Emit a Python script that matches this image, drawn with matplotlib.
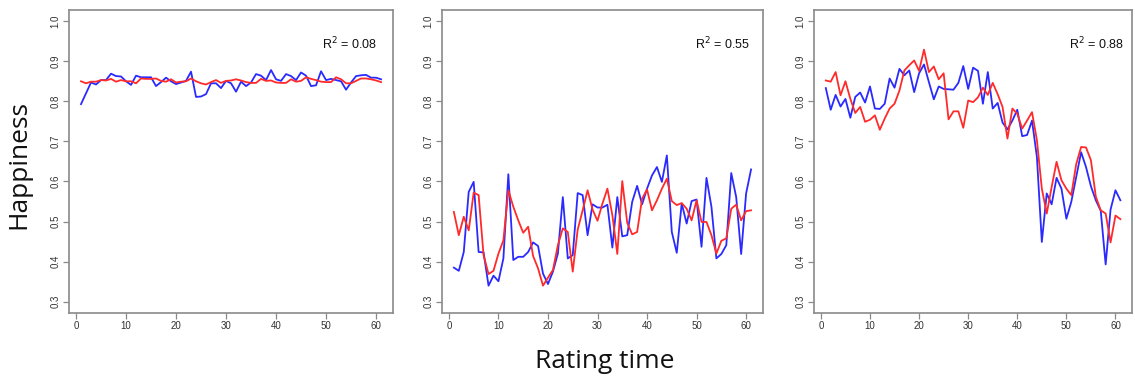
import numpy as np
import matplotlib
matplotlib.use("Agg")
from matplotlib import pyplot as plt

# rating time points
t = list(range(1, 62))

# panel 1 (R2 = 0.08)
blue1 = [0.793, 0.82, 0.847, 0.842, 0.853, 0.853, 0.869, 0.863, 0.862, 0.85,
         0.841, 0.864, 0.86, 0.86, 0.86, 0.838, 0.848, 0.859, 0.85, 0.843,
         0.847, 0.851, 0.874, 0.811, 0.812, 0.818, 0.845, 0.845, 0.833, 0.851,
         0.845, 0.824, 0.849, 0.838, 0.847, 0.868, 0.864, 0.853, 0.878, 0.855,
         0.851, 0.868, 0.863, 0.853, 0.872, 0.864, 0.838, 0.84, 0.875, 0.853,
         0.856, 0.853, 0.85, 0.829, 0.847, 0.863, 0.865, 0.866, 0.859, 0.859,
         0.855]
red1 = [0.85, 0.845, 0.849, 0.849, 0.853, 0.852, 0.856, 0.849, 0.853, 0.85,
        0.85, 0.845, 0.857, 0.856, 0.856, 0.857, 0.851, 0.849, 0.855, 0.847,
        0.849, 0.85, 0.857, 0.85, 0.845, 0.842, 0.848, 0.853, 0.846, 0.851,
        0.852, 0.855, 0.852, 0.848, 0.846, 0.846, 0.856, 0.851, 0.852, 0.847,
        0.846, 0.846, 0.855, 0.849, 0.851, 0.86, 0.856, 0.853, 0.849, 0.848,
        0.848, 0.86, 0.855, 0.845, 0.845, 0.851, 0.857, 0.857, 0.855, 0.852,
        0.848]

# panel 2 (R2 = 0.55)
blue2 = [0.385, 0.377, 0.424, 0.574, 0.599, 0.424, 0.423, 0.34, 0.365, 0.351,
         0.408, 0.618, 0.404, 0.412, 0.412, 0.424, 0.448, 0.439, 0.37, 0.344,
         0.375, 0.42, 0.561, 0.408, 0.416, 0.571, 0.566, 0.466, 0.543, 0.535,
         0.535, 0.542, 0.435, 0.561, 0.463, 0.466, 0.549, 0.589, 0.543, 0.582,
         0.615, 0.636, 0.599, 0.665, 0.474, 0.422, 0.545, 0.495, 0.551, 0.555,
         0.437, 0.609, 0.537, 0.408, 0.419, 0.441, 0.621, 0.561, 0.419, 0.57,
         0.63]
red2 = [0.524, 0.466, 0.512, 0.478, 0.572, 0.566, 0.416, 0.369, 0.377, 0.42,
        0.453, 0.578, 0.537, 0.503, 0.472, 0.487, 0.414, 0.383, 0.34, 0.36,
        0.379, 0.441, 0.483, 0.474, 0.375, 0.48, 0.528, 0.578, 0.53, 0.502,
        0.545, 0.582, 0.516, 0.419, 0.601, 0.497, 0.468, 0.474, 0.557, 0.58,
        0.528, 0.553, 0.582, 0.607, 0.551, 0.541, 0.546, 0.532, 0.503, 0.553,
        0.499, 0.499, 0.466, 0.42, 0.452, 0.458, 0.532, 0.542, 0.503, 0.526,
        0.528]

# panel 3 (R2 = 0.88)
blue3 = [0.833, 0.779, 0.816, 0.787, 0.806, 0.759, 0.811, 0.822, 0.797, 0.837,
         0.782, 0.781, 0.794, 0.857, 0.834, 0.881, 0.865, 0.877, 0.823, 0.87,
         0.892, 0.848, 0.805, 0.837, 0.831, 0.83, 0.829, 0.846, 0.888, 0.831,
         0.884, 0.876, 0.794, 0.873, 0.782, 0.796, 0.747, 0.73, 0.752, 0.779,
         0.713, 0.716, 0.752, 0.661, 0.449, 0.57, 0.543, 0.609, 0.582, 0.507,
         0.549, 0.611, 0.673, 0.636, 0.588, 0.553, 0.527, 0.393, 0.53, 0.578,
         0.553]
red3 = [0.852, 0.849, 0.873, 0.815, 0.85, 0.806, 0.771, 0.786, 0.749, 0.754,
        0.765, 0.729, 0.757, 0.782, 0.794, 0.827, 0.877, 0.89, 0.902, 0.876,
        0.929, 0.873, 0.887, 0.855, 0.87, 0.755, 0.775, 0.775, 0.734, 0.802,
        0.798, 0.81, 0.834, 0.816, 0.846, 0.818, 0.786, 0.707, 0.782, 0.769,
        0.732, 0.752, 0.773, 0.703, 0.582, 0.52, 0.586, 0.649, 0.603, 0.582,
        0.566, 0.643, 0.686, 0.685, 0.653, 0.562, 0.528, 0.52, 0.448, 0.515,
        0.506]

r2_labels = ["0.08", "0.55", "0.88"]
blues = [blue1, blue2, blue3]
reds = [red1, red2, red3]

fig = plt.figure(figsize=(11.35, 3.83), dpi=100)
plt.rcParams['font.family'] = ['Liberation Sans', 'DejaVu Sans']

# axes boxes in figure fractions (left, right)
boxes = [(0.0608, 0.3463), (0.3894, 0.6722), (0.7172, 0.9975)]
bottom, top = 0.183, 0.974
r2_x = [0.867, 0.875, 0.887]

for i, (l, r) in enumerate(boxes):
    ax = fig.add_axes([l, bottom, r - l, top - bottom])
    ax.plot(t, blues[i], color='#2a2aff', lw=1.3)
    ax.plot(t, reds[i], color='#ff2a2a', lw=1.3)
    ax.set_xlim(-1.4, 63.4)
    ax.set_ylim(0.272, 1.028)
    ax.set_xticks([0, 10, 20, 30, 40, 50, 60])
    ax.set_yticks([0.3, 0.4, 0.5, 0.6, 0.7, 0.8, 0.9, 1.0])
    ax.set_yticklabels(["0.3", "0.4", "0.5", "0.6", "0.7", "0.8", "0.9", "1.0"],
                       rotation=90, va='center')
    for s in ax.spines.values():
        s.set_color('#8a8a8a')
        s.set_linewidth(1.2)
    ax.tick_params(direction='out', length=4, width=0.9, color='#8a8a8a',
                   labelsize=7, labelcolor='#333333', pad=2)
    ax.text(r2_x[i], 0.888, "R$^2$ = " + r2_labels[i], transform=ax.transAxes,
            ha='center', va='center', fontsize=9, color='#111111')

fig.text(0.017, 0.57, "Happiness", rotation=90, ha='center', va='center',
         fontsize=19, family=['Open Sans', 'DejaVu Sans'], color='#111111')
fig.text(0.533, 0.057, "Rating time", ha='center', va='center',
         fontsize=19, family=['Open Sans', 'DejaVu Sans'], color='#111111')

fig.savefig("out.png", dpi=100)
